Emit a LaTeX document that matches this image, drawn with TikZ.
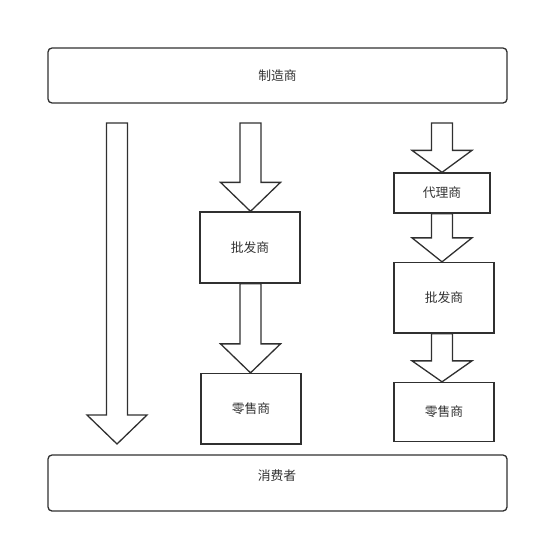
\documentclass[tikz,border=0pt]{standalone}
\usepackage{fontspec}
\setmainfont{Noto Sans CJK SC}
\usetikzlibrary{calc,backgrounds}
\definecolor{ln}{HTML}{303030}
\definecolor{tx}{HTML}{333333}
\tikzset{
  box/.style={draw=ln, line width=1.3pt, fill=white, inner sep=0pt, text=tx, font=\fontsize{12.8}{15}\selectfont},
  rbox/.style={box, rounded corners=4pt},
  lbl/.style={inner sep=0pt, text=tx, font=\fontsize{12.8}{15}\selectfont},
  blk/.style={draw=ln, line width=1.3pt, fill=white, line join=miter},
}
% block arrow from #1 (top of shaft) to #2 (tip); #3 head height
\newcommand\blockarrow[3]{%
  \draw[blk] let \p1=(#1), \p2=(#2) in
    (\x1-10.5pt,\y1) -- (\x1+10.5pt,\y1) -- (\x1+10.5pt,\y2+#3) -- (\x1+30pt,\y2+#3)
    -- (\x1,\y2) -- (\x1-30pt,\y2+#3) -- (\x1-10.5pt,\y2+#3) -- cycle;}
\begin{document}
\begin{tikzpicture}[x=1pt,y=-1pt]
\useasboundingbox (0,0) rectangle (539,543);
% top and bottom
\node[rbox, minimum width=459pt, minimum height=55pt] (maker) at (277.5,75.5) {制造商};
\node[rbox, minimum width=459pt, minimum height=56pt] (consumer) at (277.5,483) {};
\node[lbl] (consumertxt) at (277,476) {消费者};
% middle column
\node[box, minimum width=100pt, minimum height=71pt] (w1) at (250,247.5) {批发商};
\node[box, minimum width=100pt, minimum height=70.5pt] (r1) at (251,408.75) {零售商};
% right column
\node[box, minimum width=96pt, minimum height=40pt] (agent) at (442,193) {代理商};
\node[box, minimum width=100pt, minimum height=70.5pt] (w2) at (444,297.75) {批发商};
\node[box, minimum width=100pt, minimum height=59pt] (r2) at (444,412) {零售商};
% free ends
\coordinate (lstart) at (117,123);
\coordinate (lend) at (117,444);
\coordinate (mstart) at (250.5,123);
\coordinate (rstart) at (442,123);
% arrows (behind the boxes)
\begin{pgfonlayer}{background}
\blockarrow{lstart}{lend}{29pt}
\blockarrow{mstart}{mstart |- w1.north}{29pt}
\blockarrow{mstart |- w1.south}{mstart |- r1.north}{29pt}
\blockarrow{rstart}{rstart |- agent.north}{22pt}
\blockarrow{rstart |- agent.south}{rstart |- w2.north}{24pt}
\blockarrow{rstart |- w2.south}{rstart |- r2.north}{21pt}
\end{pgfonlayer}
\end{tikzpicture}
\end{document}
